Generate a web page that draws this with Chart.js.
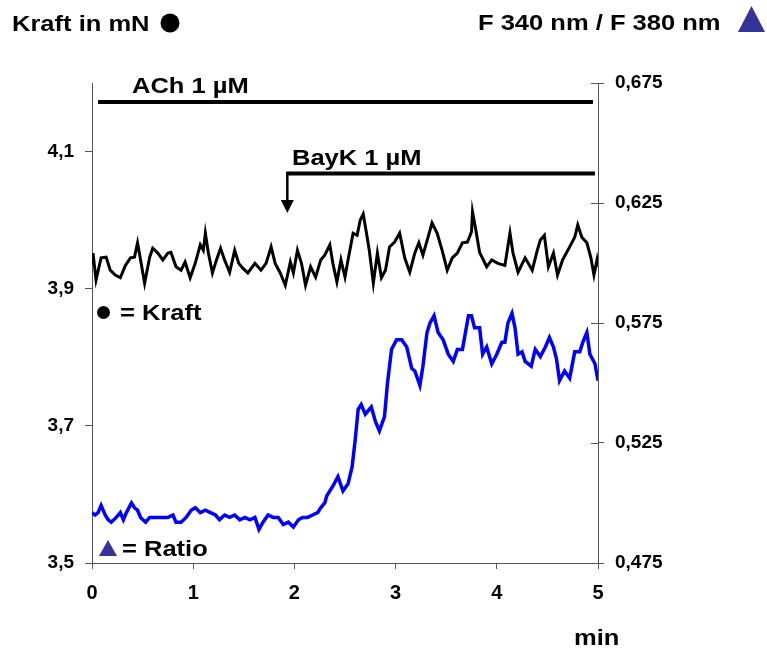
<!DOCTYPE html>
<html>
<head>
<meta charset="utf-8">
<script src="https://cdn.jsdelivr.net/npm/chart.js@4/dist/chart.umd.min.js"></script>
<style>
    html, body { margin: 0; padding: 0; background: #ffffff; }
    canvas { display: block; }
</style>
</head>
<body>
<canvas id="forceChart" width="767" height="649"></canvas>
<script>
// ==========================
// DATA (time in min)
// ==========================

const xTicks = [0, 1, 2, 3, 4, 5];
const leftTicks = [3.5, 3.7, 3.9, 4.1];
const rightTicks = [0.475, 0.525, 0.575, 0.625, 0.675];

// Kraft in mN (black trace, left axis)
const kraftTime = [
    0, 0.01, 0.04, 0.09, 0.14, 0.18, 0.23, 0.28, 0.33, 0.38,
    0.42, 0.45, 0.48, 0.52, 0.57, 0.60, 0.65, 0.70, 0.75, 0.78,
    0.83, 0.88, 0.92, 0.97, 1.02, 1.07, 1.10, 1.12, 1.15, 1.19,
    1.23, 1.27, 1.31, 1.36, 1.41, 1.45, 1.49, 1.54, 1.61, 1.67,
    1.72, 1.77, 1.81, 1.86, 1.91, 1.96, 1.99, 2.03, 2.07, 2.11,
    2.16, 2.21, 2.26, 2.30, 2.35, 2.38, 2.42, 2.46, 2.50, 2.53,
    2.58, 2.62, 2.65, 2.68, 2.71, 2.74, 2.78, 2.82, 2.86, 2.90,
    2.94, 2.99, 3.04, 3.09, 3.14, 3.19, 3.23, 3.27, 3.32, 3.36,
    3.41, 3.46, 3.51, 3.56, 3.61, 3.66, 3.71, 3.75, 3.76, 3.79,
    3.83, 3.90, 3.95, 4.01, 4.08, 4.13, 4.16, 4.21, 4.28, 4.35,
    4.40, 4.43, 4.47, 4.51, 4.56, 4.60, 4.65, 4.72, 4.77, 4.80,
    4.84, 4.89, 4.93, 4.96, 4.99, 5.00
];

const kraftValues = [
    3.935, 3.952, 3.913, 3.945, 3.946, 3.927, 3.920, 3.916, 3.934, 3.945,
    3.946, 3.967, 3.942, 3.908, 3.946, 3.959, 3.952, 3.942, 3.952, 3.953,
    3.932, 3.927, 3.939, 3.916, 3.937, 3.964, 3.956, 3.981, 3.952, 3.923,
    3.942, 3.959, 3.942, 3.924, 3.956, 3.937, 3.930, 3.923, 3.937, 3.927,
    3.937, 3.961, 3.937, 3.923, 3.905, 3.939, 3.923, 3.956, 3.937, 3.905,
    3.932, 3.917, 3.942, 3.949, 3.964, 3.937, 3.910, 3.942, 3.917, 3.942,
    3.981, 3.978, 4.000, 4.009, 3.983, 3.956, 3.908, 3.952, 3.916, 3.927,
    3.961, 3.968, 3.981, 3.945, 3.924, 3.952, 3.967, 3.949, 3.975, 3.996,
    3.981, 3.956, 3.927, 3.945, 3.952, 3.967, 3.968, 3.983, 4.012, 3.988,
    3.953, 3.932, 3.942, 3.937, 3.934, 3.981, 3.952, 3.924, 3.945, 3.927,
    3.956, 3.971, 3.978, 3.932, 3.952, 3.920, 3.942, 3.961, 3.975, 3.993,
    3.975, 3.967, 3.945, 3.920, 3.942, 3.932
];

// F 340 nm / F 380 nm ratio (blue trace, right axis)
const ratioTime = [
    0, 0.03, 0.06, 0.09, 0.13, 0.16, 0.19, 0.24, 0.28, 0.31,
    0.34, 0.39, 0.42, 0.45, 0.48, 0.53, 0.57, 0.60, 0.65, 0.70,
    0.75, 0.80, 0.83, 0.88, 0.93, 0.98, 1.02, 1.07, 1.12, 1.17,
    1.22, 1.26, 1.31, 1.36, 1.41, 1.46, 1.51, 1.56, 1.61, 1.65,
    1.69, 1.74, 1.79, 1.84, 1.89, 1.94, 1.99, 2.04, 2.08, 2.13,
    2.18, 2.23, 2.26, 2.30, 2.32, 2.38, 2.43, 2.48, 2.53, 2.57,
    2.60, 2.63, 2.66, 2.70, 2.76, 2.80, 2.84, 2.89, 2.92, 2.96,
    3.01, 3.06, 3.11, 3.16, 3.19, 3.24, 3.27, 3.31, 3.34, 3.38,
    3.42, 3.47, 3.52, 3.57, 3.61, 3.66, 3.69, 3.72, 3.75, 3.78,
    3.83, 3.86, 3.90, 3.95, 4.00, 4.05, 4.08, 4.11, 4.15, 4.18,
    4.21, 4.25, 4.28, 4.34, 4.38, 4.43, 4.48, 4.52, 4.56, 4.59,
    4.62, 4.67, 4.72, 4.77, 4.82, 4.85, 4.89, 4.92, 4.97, 5.00
];

const ratioValues = [
    0.496, 0.495, 0.496, 0.499, 0.495, 0.493, 0.492, 0.494, 0.496, 0.493,
    0.496, 0.500, 0.498, 0.497, 0.494, 0.492, 0.494, 0.494, 0.494, 0.494,
    0.494, 0.495, 0.492, 0.492, 0.494, 0.497, 0.498, 0.496, 0.497, 0.496,
    0.495, 0.493, 0.495, 0.494, 0.495, 0.493, 0.494, 0.493, 0.494, 0.489,
    0.492, 0.495, 0.494, 0.494, 0.491, 0.492, 0.490, 0.493, 0.494, 0.494,
    0.495, 0.496, 0.498, 0.500, 0.503, 0.507, 0.511, 0.505, 0.508, 0.515,
    0.526, 0.539, 0.541, 0.537, 0.540, 0.534, 0.530, 0.536, 0.550, 0.564,
    0.568, 0.568, 0.565, 0.556, 0.555, 0.549, 0.557, 0.571, 0.575, 0.578,
    0.571, 0.568, 0.562, 0.559, 0.564, 0.564, 0.571, 0.578, 0.578, 0.573,
    0.573, 0.562, 0.565, 0.558, 0.562, 0.567, 0.567, 0.575, 0.579, 0.573,
    0.562, 0.563, 0.559, 0.557, 0.564, 0.561, 0.565, 0.569, 0.565, 0.560,
    0.551, 0.555, 0.552, 0.563, 0.563, 0.567, 0.571, 0.562, 0.558, 0.551
];

// drug application bars (min)
const achStart = 0.06;
const achEnd = 4.95;
const bayKStart = 1.93;
const bayKEnd = 4.97;

// ==========================
// STYLE
// ==========================

const fontFamily = "'Liberation Sans', Arial, Helvetica, sans-serif";
const axisColor = "#555555";
const triangleColor = "#333399";
const textStretch = 1.16;

const kraftPoints = kraftTime.map((t, i) => ({ x: t, y: kraftValues[i] }));
const ratioPoints = ratioTime.map((t, i) => ({ x: t, y: ratioValues[i] }));

function commaLabel(digits) {
    return v => Number(v).toFixed(digits).replace(".", ",");
}

// ==========================
// TEXT + MARKERS PLUGIN
// ==========================

function stretchedText(ctx, text, x, y, size) {
    ctx.save();
    ctx.font = "bold " + size + "px " + fontFamily;
    ctx.fillStyle = "#000000";
    ctx.textBaseline = "alphabetic";
    ctx.textAlign = "left";
    ctx.translate(x, y);
    ctx.scale(textStretch, 1);
    ctx.fillText(text, 0, 0);
    ctx.restore();
}

function triangle(ctx, left, bottom, w, h) {
    ctx.beginPath();
    ctx.moveTo(left, bottom);
    ctx.lineTo(left + w, bottom);
    ctx.lineTo(left + w / 2, bottom - h);
    ctx.closePath();
    ctx.fillStyle = triangleColor;
    ctx.fill();
}

const decorations = {
    id: "decorations",
    afterDraw(chart) {
        const ctx = chart.ctx;
        const xs = chart.scales.x;
        const rs = chart.scales.y1;

        // inner half of the right axis ticks
        ctx.save();
        ctx.strokeStyle = axisColor;
        ctx.lineWidth = 1;
        rightTicks.forEach(v => {
            const py = Math.round(rs.getPixelForValue(v)) + 0.5;
            ctx.beginPath();
            ctx.moveTo(rs.left - 7, py);
            ctx.lineTo(rs.left, py);
            ctx.stroke();
        });
        ctx.restore();

        // axis titles
        stretchedText(ctx, "Kraft in mN", 12, 31, 22);
        ctx.beginPath();
        ctx.arc(170, 23, 9.5, 0, Math.PI * 2);
        ctx.fillStyle = "#000000";
        ctx.fill();

        stretchedText(ctx, "F 340 nm / F 380 nm", 478, 30, 22);
        triangle(ctx, 738, 32, 27, 26);

        // ACh bar
        stretchedText(ctx, "ACh 1 µM", 132, 93, 22);
        ctx.save();
        ctx.strokeStyle = "#000000";
        ctx.lineWidth = 4;
        ctx.beginPath();
        ctx.moveTo(xs.getPixelForValue(achStart), 102);
        ctx.lineTo(xs.getPixelForValue(achEnd), 102);
        ctx.stroke();

        // BayK bar with arrow
        const bx = xs.getPixelForValue(bayKStart);
        ctx.beginPath();
        ctx.moveTo(bx - 1, 173.5);
        ctx.lineTo(xs.getPixelForValue(bayKEnd), 173.5);
        ctx.stroke();
        ctx.lineWidth = 2.5;
        ctx.beginPath();
        ctx.moveTo(bx, 172);
        ctx.lineTo(bx, 202);
        ctx.stroke();
        ctx.beginPath();
        ctx.moveTo(bx - 6.5, 200);
        ctx.lineTo(bx + 6.5, 200);
        ctx.lineTo(bx, 213);
        ctx.closePath();
        ctx.fillStyle = "#000000";
        ctx.fill();
        ctx.restore();
        stretchedText(ctx, "BayK 1 µM", 292, 165, 22);

        // in-plot keys
        ctx.beginPath();
        ctx.arc(103.5, 312.5, 6.5, 0, Math.PI * 2);
        ctx.fillStyle = "#000000";
        ctx.fill();
        stretchedText(ctx, "= Kraft", 120, 320, 22);

        triangle(ctx, 99, 556, 18, 16);
        stretchedText(ctx, "= Ratio", 122, 556, 22);

        // unit of x axis
        stretchedText(ctx, "min", 574, 645, 22);
    }
};

// ==========================
// CHART
// ==========================

const tickFont = {
    family: fontFamily,
    size: 19,
    weight: "bold"
};

new Chart(document.getElementById("forceChart"), {
    type: "line",
    data: {
        datasets: [{
            label: "Kraft",
            data: kraftPoints,
            yAxisID: "y",
            borderColor: "#000000",
            borderWidth: 3,
            pointRadius: 0,
            tension: 0
        }, {
            label: "Ratio",
            data: ratioPoints,
            yAxisID: "y1",
            borderColor: "#0000ff",
            borderWidth: 3.5,
            pointRadius: 0,
            tension: 0
        }]
    },
    options: {
        responsive: false,
        animation: false,
        devicePixelRatio: 1,
        layout: {
            padding: { top: 83, left: 0, right: 0, bottom: 0 }
        },
        plugins: {
            legend: { display: false },
            tooltip: { enabled: false }
        },
        scales: {
            x: {
                type: "linear",
                min: 0,
                max: 5,
                afterBuildTicks: s => { s.ticks = xTicks.map(v => ({ value: v })); },
                afterFit: s => { s.height = 86; },
                grid: {
                    drawOnChartArea: false,
                    tickLength: 6,
                    color: axisColor
                },
                border: { color: axisColor, width: 1 },
                ticks: {
                    font: { family: fontFamily, size: 20, weight: "bold" },
                    color: "#000000",
                    padding: 12,
                    maxRotation: 0,
                    autoSkip: false
                }
            },
            y: {
                position: "left",
                min: 3.5,
                max: 4.2,
                afterBuildTicks: s => { s.ticks = leftTicks.map(v => ({ value: v })); },
                afterFit: s => { s.width = 92; },
                grid: {
                    drawOnChartArea: false,
                    tickLength: 7,
                    color: axisColor
                },
                border: { color: axisColor, width: 1 },
                ticks: {
                    font: tickFont,
                    color: "#000000",
                    padding: 11,
                    callback: commaLabel(1)
                }
            },
            y1: {
                position: "right",
                min: 0.475,
                max: 0.675,
                afterBuildTicks: s => { s.ticks = rightTicks.map(v => ({ value: v })); },
                afterFit: s => { s.width = 169; },
                grid: {
                    drawOnChartArea: false,
                    tickLength: 6,
                    color: axisColor
                },
                border: { color: axisColor, width: 1 },
                ticks: {
                    font: tickFont,
                    color: "#000000",
                    padding: 11,
                    callback: commaLabel(3)
                }
            }
        }
    },
    plugins: [decorations]
});
</script>
</body>
</html>
